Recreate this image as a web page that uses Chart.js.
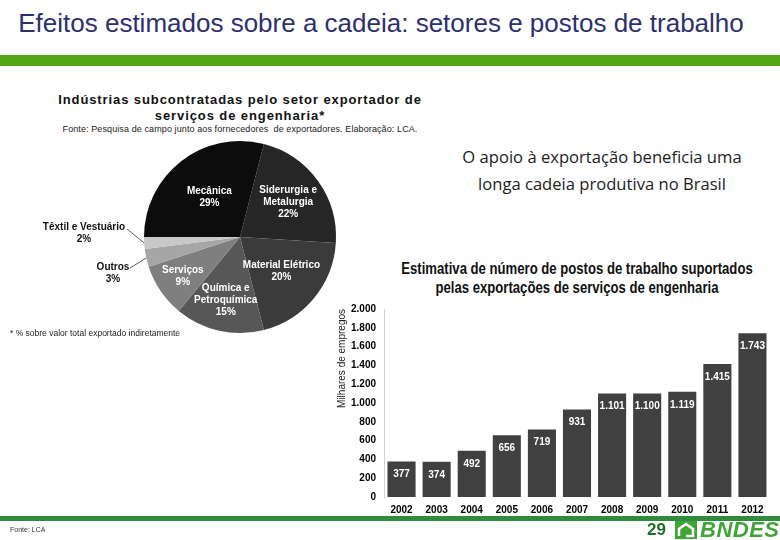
<!DOCTYPE html>
<html>
<head>
<meta charset="utf-8">
<script src="https://cdn.jsdelivr.net/npm/chart.js@4.4.0/dist/chart.umd.min.js"></script>
<style>
  html, body { margin: 0; padding: 0; background: #fff; }
  #page { position: relative; width: 780px; height: 540px; overflow: hidden; font-family: "Liberation Sans", Arial, sans-serif; }
  .abs { position: absolute; white-space: nowrap; }
  #title { left: 0; width: 762px; top: 8px; text-align: center; font-size: 26px; color: #2d2f6e; }
  #topBar { left: 0; top: 55px; width: 780px; height: 11px; background: #56a514; }
  #pieTitle { left: 40px; width: 400px; top: 92px; text-align: center; font-weight: bold; font-size: 13px; line-height: 16px; letter-spacing: 0.9px; color: #111; }
  #pieSource { left: 40px; width: 400px; top: 124px; text-align: center; font-size: 9px; letter-spacing: 0.1px; color: #222; }
  #pieNote { left: 10px; top: 328px; font-size: 8.5px; color: #222; }
  #claim { left: 452px; width: 300px; top: 143px; text-align: center; font-family: "Open Sans", sans-serif; font-size: 16.6px; line-height: 27px; color: #1c1c1c; }
  #barTitle { left: 327px; width: 500px; top: 259px; text-align: center; font-weight: bold; font-size: 16px; line-height: 19px; color: #111; transform: scaleX(0.82); transform-origin: 250px 0; }
  #bottomBar { left: 0; top: 516px; width: 780px; height: 5px; background: #2f8c3c; }
  #fonte { left: 10px; top: 526px; font-size: 7px; color: #333; }
  #pageNo { left: 647px; top: 520px; font-weight: bold; font-size: 17px; color: #1f6f2c; }
  #logoBox { left: 675px; top: 521px; }
  #logoText { left: 700px; top: 517px; font-weight: bold; font-style: italic; font-size: 22px; color: #3ea536; letter-spacing: 0.5px; }
  canvas { position: absolute; }
</style>
</head>
<body>
<div id="page">
  <div id="title" class="abs">Efeitos estimados sobre a cadeia: setores e postos de trabalho</div>
  <div id="topBar" class="abs"></div>

  <div id="pieTitle" class="abs">Indústrias subcontratadas pelo setor exportador de<br>serviços de engenharia*</div>
  <div id="pieSource" class="abs">Fonte: Pesquisa de campo junto aos fornecedores &nbsp;de exportadores. Elaboração: LCA.</div>
  <canvas id="pieChart" width="345" height="200" style="left:0;top:137px;"></canvas>
  <div id="pieNote" class="abs">* % sobre valor total exportado indiretamente</div>

  <div id="claim" class="abs">O apoio à exportação beneficia uma<br>longa cadeia produtiva no Brasil</div>

  <div id="barTitle" class="abs">Estimativa de número de postos de trabalho suportados<br>pelas exportações de serviços de engenharia</div>
  <canvas id="barChart" width="450" height="225" style="left:330px;top:295px;"></canvas>

  <div id="bottomBar" class="abs"></div>
  <div id="fonte" class="abs">Fonte: LCA</div>
  <div id="pageNo" class="abs">29</div>
  <svg id="logoBox" class="abs" width="22" height="18" viewBox="0 0 22 18">
    <rect x="0" y="0" width="22" height="18" fill="#3ea536"/>
    <polyline points="4,15 4,8 11,3 18,8 18,15 11,15" fill="none" stroke="#fff" stroke-width="2.5"/>
  </svg>
  <div id="logoText" class="abs">BNDES</div>
</div>

<script>
// Pie: sectors subcontracted (% of indirect exports), clockwise from Siderurgia
const sectorNames = [
  ['Siderurgia e', 'Metalurgia'],
  ['Material Elétrico'],
  ['Química e', 'Petroquímica'],
  ['Serviços'],
  ['Outros'],
  ['Têxtil e Vestuário'],
  ['Mecânica']
];
const sectorShares = [22, 20, 15, 9, 3, 2, 29];
const sectorColors = ['#262626', '#3b3b3b', '#575757', '#7f7f7f', '#a6a6a6', '#c8c8c8', '#0c0c0c'];

// Bars: jobs supported (thousands)
const years = ['2002', '2003', '2004', '2005', '2006', '2007', '2008', '2009', '2010', '2011', '2012'];
const jobs = [377, 374, 492, 656, 719, 931, 1101, 1100, 1119, 1415, 1743];
const yTicks = [0, 200, 400, 600, 800, 1000, 1200, 1400, 1600, 1800, 2000];

const sans = '"Liberation Sans", Arial, sans-serif';
const fmt = v => String(v).replace(/\B(?=(\d{3})+(?!\d))/g, '.');

// label placement for pie slices (fraction of radius), outside ones get a leader line
const labelRadius = [0.62, 0.56, 0.68, 0.72, 0, 0, 0.52];
const outsideLabels = { 4: { x: 113, y: 136, lx: 130, ly: 131 }, 5: { x: 84, y: 96, lx: 127, ly: 92 } };

const pieLabels = {
  id: 'pieLabels',
  afterDatasetsDraw(chart) {
    const ctx = chart.ctx;
    const arcs = chart.getDatasetMeta(0).data;
    ctx.save();
    ctx.font = 'bold 10px ' + sans;
    ctx.textAlign = 'center';
    ctx.textBaseline = 'middle';
    arcs.forEach((arc, i) => {
      const mid = (arc.startAngle + arc.endAngle) / 2;
      const lines = sectorNames[i].concat([sectorShares[i] + '%']);
      if (outsideLabels[i]) {
        const o = outsideLabels[i];
        const ex = arc.x + Math.cos(mid) * arc.outerRadius;
        const ey = arc.y + Math.sin(mid) * arc.outerRadius;
        ctx.strokeStyle = '#333';
        ctx.lineWidth = 0.8;
        ctx.beginPath();
        ctx.moveTo(o.lx, o.ly);
        ctx.lineTo(ex, ey);
        ctx.stroke();
        ctx.fillStyle = '#111';
        lines.forEach((t, k) => ctx.fillText(t, o.x, o.y + (k - (lines.length - 1) / 2) * 12));
      } else {
        const r = arc.outerRadius * labelRadius[i];
        const cx = arc.x + Math.cos(mid) * r;
        const cy = arc.y + Math.sin(mid) * r;
        ctx.fillStyle = '#fff';
        lines.forEach((t, k) => ctx.fillText(t, cx, cy + (k - (lines.length - 1) / 2) * 12));
      }
    });
    ctx.restore();
  }
};

new Chart(document.getElementById('pieChart'), {
  type: 'pie',
  data: {
    labels: sectorNames.map(n => n.join(' ')),
    datasets: [{ data: sectorShares, backgroundColor: sectorColors, borderWidth: 0 }]
  },
  options: {
    responsive: false,
    animation: false,
    devicePixelRatio: 1,
    rotation: 14.4,
    layout: { padding: { left: 140, right: 5, top: 4, bottom: 4 } },
    plugins: { legend: { display: false }, tooltip: { enabled: false } }
  },
  plugins: [pieLabels]
});

const barLabels = {
  id: 'barLabels',
  afterDatasetsDraw(chart) {
    const ctx = chart.ctx;
    ctx.save();
    ctx.font = 'bold 10px ' + sans;
    ctx.fillStyle = '#fff';
    ctx.textAlign = 'center';
    ctx.textBaseline = 'middle';
    chart.getDatasetMeta(0).data.forEach((bar, i) => {
      ctx.fillText(fmt(jobs[i]), bar.x, bar.y + 13);
    });
    ctx.restore();
  }
};

new Chart(document.getElementById('barChart'), {
  type: 'bar',
  data: {
    labels: years,
    datasets: [{ data: jobs, backgroundColor: '#404040', barPercentage: 0.8, categoryPercentage: 1 }]
  },
  options: {
    responsive: false,
    animation: false,
    devicePixelRatio: 1,
    layout: { padding: { top: 9, right: 10, left: 0, bottom: 0 } },
    plugins: { legend: { display: false }, tooltip: { enabled: false } },
    scales: {
      x: {
        grid: { display: false, drawTicks: false },
        border: { display: false },
        ticks: { padding: 7, color: '#000', font: { family: sans, size: 10, weight: 'bold' } },
        afterFit: s => { s.height = 23; }
      },
      y: {
        min: 0,
        max: 2000,
        afterBuildTicks: s => { s.ticks = yTicks.map(v => ({ value: v })); },
        grid: { display: false, drawTicks: false },
        border: { display: true, color: '#d0d0d0' },
        ticks: { padding: 8, color: '#000', font: { family: sans, size: 10, weight: 'bold' }, callback: v => fmt(v) },
        title: { display: true, text: 'Milhares de empregos', align: 'end', color: '#222', padding: { top: 6, bottom: 2 }, font: { family: sans, size: 10 } },
        afterFit: s => { s.width = 54; }
      }
    }
  },
  plugins: [barLabels]
});
</script>
</body>
</html>
